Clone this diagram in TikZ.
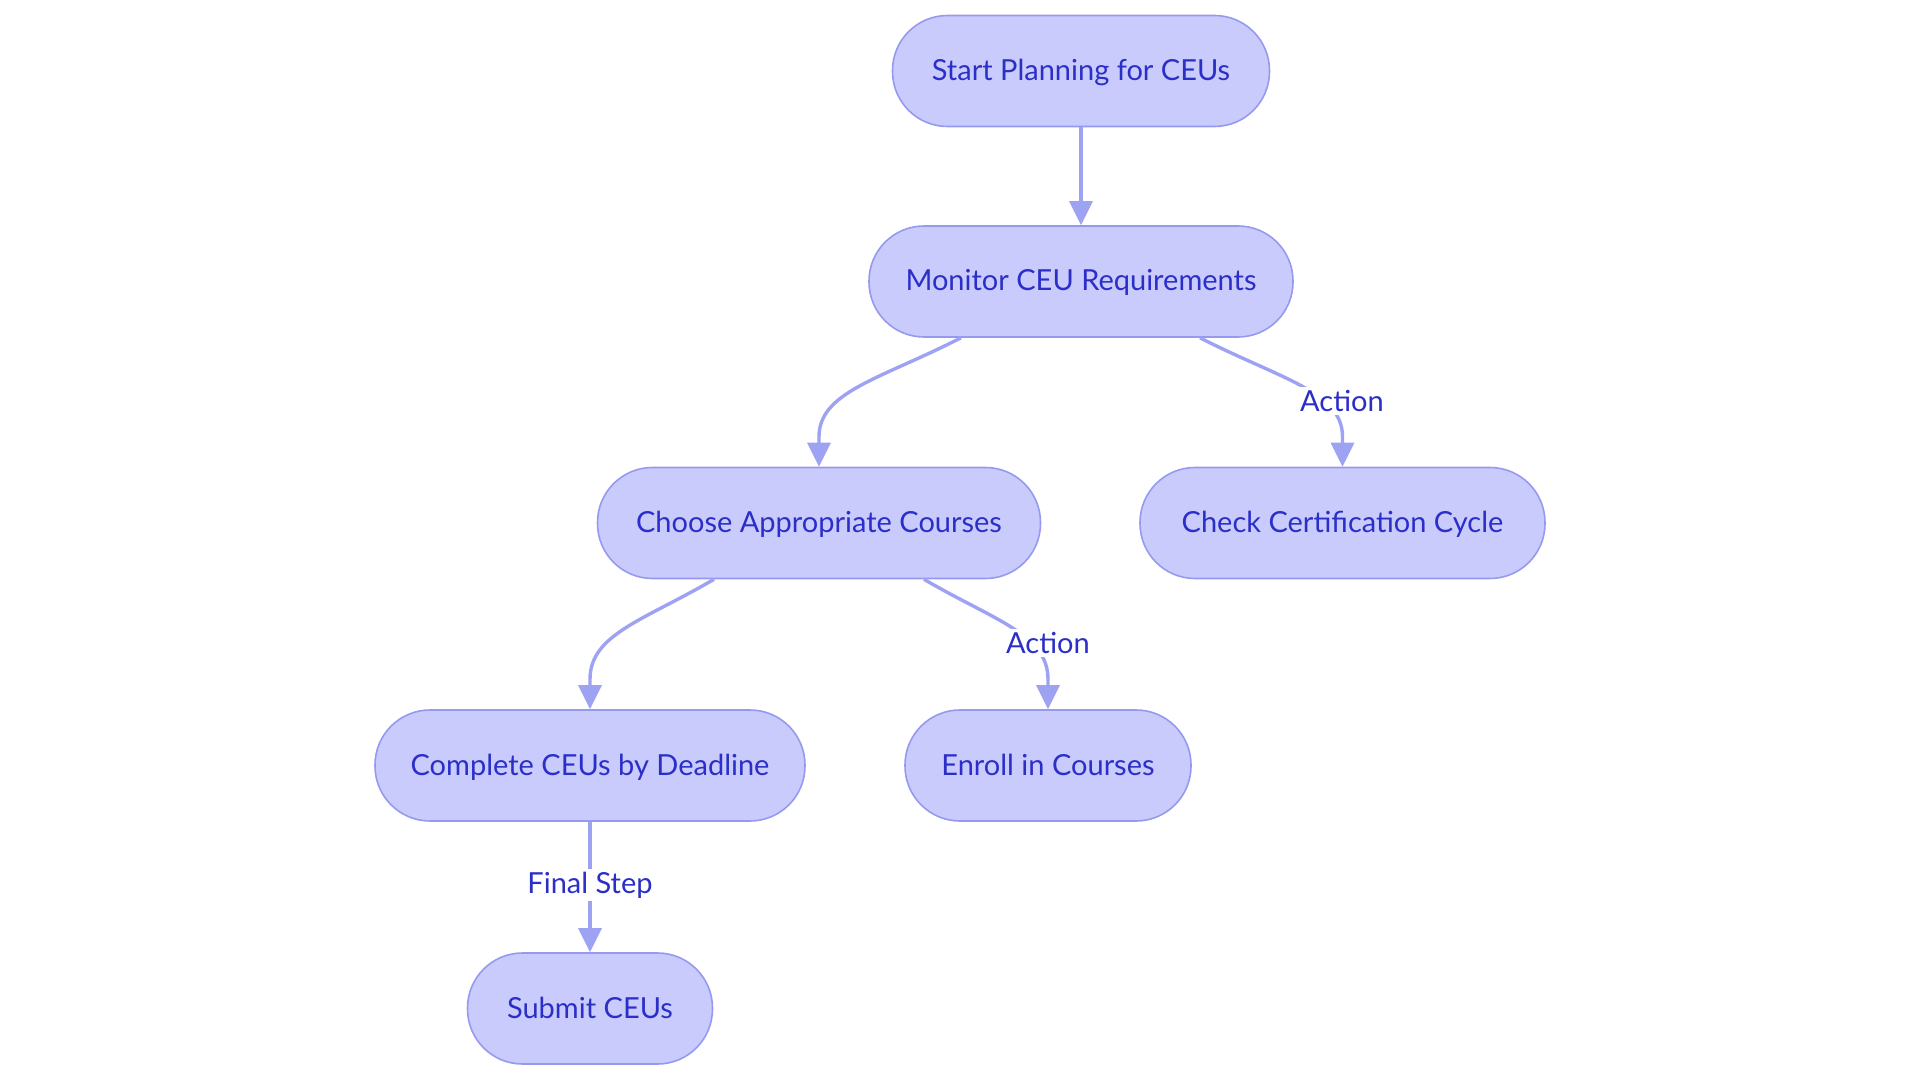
\documentclass[tikz,border=0pt]{standalone}
\usepackage{fontspec}
\setmainfont{Lato}
\usetikzlibrary{arrows.meta}
\definecolor{boxfill}{RGB}{201,203,252}
\definecolor{boxline}{RGB}{150,154,238}
\definecolor{flowline}{RGB}{158,162,242}
\definecolor{inktext}{RGB}{43,47,199}

\begin{document}
\begin{tikzpicture}[x=1pt,y=-1pt,
  box/.style={draw=boxline,line width=1.6pt,fill=boxfill,rounded corners=55pt,minimum height=111pt,text height=26pt,text depth=7pt,text=inktext,font=\fontsize{29}{35}\selectfont},
  flow/.style={draw=flowline,line width=3.4pt,-{Triangle[length=24pt,width=23pt]}},
  lbl/.style={fill=white,text=inktext,inner sep=3pt,font=\fontsize{29}{35}\selectfont}]
  \useasboundingbox (0,0) rectangle (1920,1083);

  % steps
  \node[box,minimum width=377pt] (start) at (1081,71) {Start Planning for CEUs};
  \node[box,minimum width=424pt] (mon) at (1081,281.5) {Monitor CEU Requirements};
  \node[box,minimum width=443pt] (cho) at (819,523) {Choose Appropriate Courses};
  \node[box,minimum width=405pt] (chk) at (1342.5,523) {Check Certification Cycle};
  \node[box,minimum width=430pt] (cpl) at (590,765.5) {Complete CEUs by Deadline};
  \node[box,minimum width=286pt] (enr) at (1048,765.5) {Enroll in Courses};
  \node[box,minimum width=245pt] (sub) at (590,1008.5) {Submit CEUs};

  % connectors
  \draw[flow] (start) -- (mon);
  \draw[flow] ([xshift=-120pt]mon.south) .. controls +(-80pt,-41pt) and +(0,45pt) .. ([yshift=30pt]cho.north) -- (cho.north);
  \draw[flow] ([xshift=119pt]mon.south) .. controls +(80pt,-41pt) and +(0,45pt) .. ([yshift=30pt]chk.north) -- (chk.north);
  \draw[flow] ([xshift=-105pt]cho.south) .. controls +(-70pt,-41pt) and +(0,45pt) .. ([yshift=30pt]cpl.north) -- (cpl.north);
  \draw[flow] ([xshift=105pt]cho.south) .. controls +(70pt,-41pt) and +(0,45pt) .. ([yshift=30pt]enr.north) -- (enr.north);
  \draw[flow] (cpl) -- (sub);

  % labels
  \node[lbl] (act1) at (1342,401) {Action};
  \node[lbl] (act2) at (1048,643) {Action};
  \node[lbl] (fin) at (590,885) {Final Step};
\end{tikzpicture}
\end{document}
